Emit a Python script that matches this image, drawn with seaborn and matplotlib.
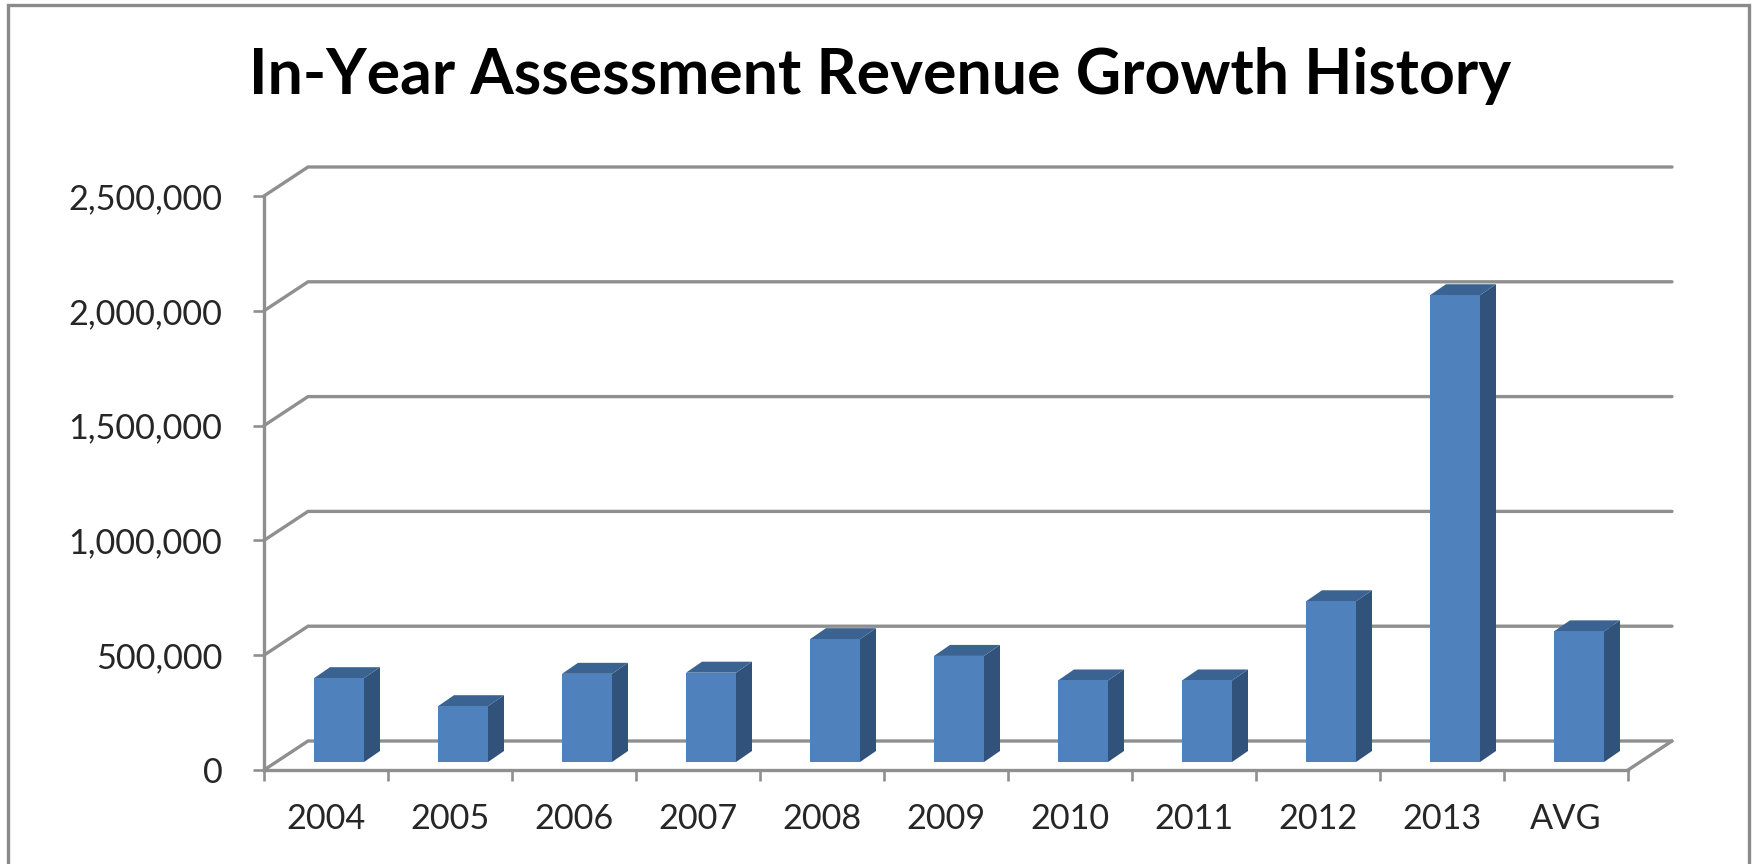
import matplotlib
matplotlib.use('Agg')
import matplotlib.pyplot as plt
from matplotlib.lines import Line2D
import pandas as pd
import seaborn as sns

# values
years = ['2004', '2005', '2006', '2007', '2008', '2009', '2010', '2011', '2012', '2013', 'AVG']
revenue = [365000, 243000, 384000, 389000, 535000, 462000, 355000, 355000, 700000, 2033000, 569000]
y_ticks = [0, 500000, 1000000, 1500000, 2000000, 2500000]
title = 'In-Year Assessment Revenue Growth History'

W, H = 1754, 864
left, right, y_zero, y_top = 264, 1628, 770, 196  # front plane, pixels
GREY = '#8f8f8f'
TEXT = '#262626'

sns.set_theme(style='white')
plt.rcParams['font.family'] = ['Lato', 'DejaVu Sans']

fig = plt.figure(figsize=(W / 100, H / 100), dpi=100)


def place(dx=0, dy=0):
    # axes rectangle from pixels, dx/dy move it right and up
    return [(left + dx) / W, (H - y_zero + dy) / H, (right - left) / W, (y_zero - y_top) / H]


ax = fig.add_axes(place())
ax.set_xlim(-0.5, 10.5)
ax.set_ylim(0, 2500000)

px_x = 11 / (right - left)
px_y = 2500000 / (y_zero - y_top)

# wall and floor lines, going back in depth
wall_dx, wall_dy = 44 * px_x, 29 * px_y
for v in y_ticks:
    ax.plot([-0.5, -0.5 + wall_dx, 10.5 + wall_dx], [v, v + wall_dy, v + wall_dy],
            color=GREY, lw=2.4, clip_on=False, zorder=1, solid_joinstyle='miter')
ax.plot([10.5, 10.5 + wall_dx], [0, wall_dy], color=GREY, lw=2.4, clip_on=False, zorder=1)

ax.set_yticks(y_ticks)
ax.set_yticklabels([f'{v:,}' for v in y_ticks])
ax.set_xticks([i - 0.5 for i in range(12)])
ax.set_xticklabels([])
ax.set_xticks(range(11), labels=years, minor=True)
ax.tick_params(axis='y', left=True, length=8, width=1.9, color=GREY, labelsize=24.7,
               labelcolor=TEXT, pad=22)
ax.tick_params(axis='x', which='major', bottom=True, length=8, width=1.9, color=GREY)
ax.tick_params(axis='x', which='minor', bottom=False, length=0, labelsize=24.7,
               labelcolor=TEXT, pad=24)
sns.despine(ax=ax)
for s in ['left', 'bottom']:
    ax.spines[s].set_color(GREY)
    ax.spines[s].set_linewidth(2.4)

# bars stand halfway back on the floor, so they get their own shifted axes
bar_ax = fig.add_axes(place(13, 8), sharey=None)
bar_ax.patch.set_visible(False)
df = pd.DataFrame({'year': years, 'revenue': revenue})
bar_w = 50 * px_x
sns.barplot(data=df, x='year', y='revenue', color='#4f81bd', saturation=1, width=bar_w,
            edgecolor='none', linewidth=0, ax=bar_ax, zorder=4)
bar_ax.set_xlim(-0.5, 10.5)
bar_ax.set_ylim(0, 2500000)
bar_ax.axis('off')

# side and top faces of each bar
d_x, d_y = 16 * px_x, 11 * px_y
for i, v in enumerate(revenue):
    x0, x1 = i - bar_w / 2, i + bar_w / 2
    bar_ax.fill([x1, x1 + d_x, x1 + d_x, x1], [0, d_y, v + d_y, v], color='#30527b', lw=0, zorder=3)
    bar_ax.fill([x0, x0 + d_x, x1 + d_x, x1], [v, v + d_y, v + d_y, v], color='#3a6391', lw=0, zorder=3)

fig.text(880 / W, 1 - 76 / H, title, ha='center', va='center', fontsize=45,
         fontweight='bold', color='black')

# outer frame, open at the bottom edge of the crop
fig.add_artist(Line2D([8 / W, 8 / W, 1749 / W, 1749 / W], [0, 1 - 5 / H, 1 - 5 / H, 0],
                      color='#8a8a8a', lw=2.4, solid_joinstyle='miter'))

fig.savefig('out.png', dpi=100)
